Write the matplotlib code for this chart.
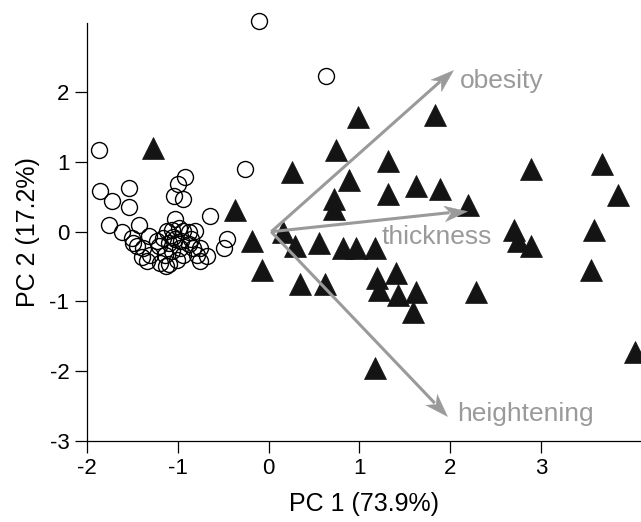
import numpy as np
import matplotlib
matplotlib.use("Agg")
import matplotlib.pyplot as plt
from matplotlib.path import Path
from matplotlib.markers import MarkerStyle
from matplotlib.transforms import Affine2D

plt.rcParams['font.family'] = ['Liberation Sans', 'DejaVu Sans']
plt.rcParams['axes.unicode_minus'] = False

# Group 1 (open circles)
circle_x = [-0.10, 0.63, -1.87, -0.26, -1.85, -1.54, -1.72, -1.54, -0.92, -1.00,
            -1.04, -0.94, -0.64, -1.03, -1.75, -1.61, -1.42, -0.46, -0.49,
            -1.50, -1.49, -1.31, -1.38, -1.39, -1.34, -1.23, -1.16, -1.12, -1.06,
            -0.99, -0.94, -0.88, -0.81, -1.10, -1.03, -0.96, -0.88, -0.97, -1.06,
            -1.14, -1.19, -1.10, -1.01, -0.94, -0.79, -0.75, -0.68, -0.75, -0.83,
            -1.30, -1.45, -1.13, -1.20, -1.05, -0.85]
circle_y = [3.02, 2.24, 1.18, 0.90, 0.59, 0.63, 0.44, 0.35, 0.78, 0.68,
            0.51, 0.47, 0.23, 0.18, 0.09, 0.00, 0.10, -0.10, -0.23,
            -0.09, -0.16, -0.06, -0.23, -0.37, -0.42, -0.13, -0.09, 0.01, 0.03,
            0.06, 0.01, -0.01, 0.01, -0.16, -0.11, -0.13, -0.18, -0.23, -0.28,
            -0.33, -0.45, -0.47, -0.40, -0.33, -0.33, -0.42, -0.35, -0.23, -0.23,
            -0.33, -0.21, -0.49, -0.20, -0.08, -0.10]

# Group 2 (filled triangles)
tri_x = [-1.27, 0.98, 1.83, 0.74, 1.31, 0.26, 2.89, 3.67, 0.89, 1.62,
         1.89, 1.32, 3.85, 0.72, 0.72, 2.20, -0.37, 2.70, 3.58, 0.16,
         -0.18, 0.29, 0.56, 0.82, 0.96, 1.17, 2.75, 2.89, -0.07, 0.35,
         0.62, 1.19, 1.40, 1.22, 1.43, 1.62, 1.59, 2.28, 3.55, 1.17, 4.03]
tri_y = [1.20, 1.65, 1.68, 1.17, 1.02, 0.86, 0.90, 0.97, 0.74, 0.65,
         0.62, 0.54, 0.53, 0.47, 0.32, 0.38, 0.31, 0.03, 0.03, 0.00,
         -0.13, -0.20, -0.16, -0.24, -0.24, -0.24, -0.14, -0.21, -0.55, -0.75,
         -0.75, -0.67, -0.59, -0.84, -0.91, -0.86, -1.15, -0.87, -0.55, -1.96, -1.73]

# Loading vectors
vec_names = ["obesity", "thickness", "heightening"]
vec_x = [2.03, 2.18, 1.96]
vec_y = [2.32, 0.30, -2.64]
vec_label_x = [2.11, 1.24, 2.07]
vec_label_y = [2.16, -0.08, -2.62]
origin = (0.03, 0.0)

x_ticks = [-2, -1, 0, 1, 2, 3]
y_ticks = [-3, -2, -1, 0, 1, 2]

fig = plt.figure(figsize=(6.41, 5.22), dpi=100)
ax = fig.add_axes([0.1353, 0.1557, 0.8647, 0.8008])
ax.set_xlim(-2, 4.098)
ax.set_ylim(-3, 3.0)

for s in ['top', 'right']:
    ax.spines[s].set_visible(False)
for s in ['left', 'bottom']:
    ax.spines[s].set_linewidth(0.9)
ax.set_xticks(x_ticks)
ax.set_yticks(y_ticks)
ax.tick_params(direction='out', length=8.5, width=0.9, labelsize=16, pad=4)
ax.set_xlabel("PC 1 (73.9%)", fontsize=18, labelpad=9)
ax.set_ylabel("PC 2 (17.2%)", fontsize=18, labelpad=7)

ax.plot(circle_x, circle_y, linestyle='none', marker='o', markersize=11.5,
        markerfacecolor='none', markeredgecolor='black', markeredgewidth=1.0,
        clip_on=False, zorder=3)
ax.plot(tri_x, tri_y, linestyle='none', marker='^', markersize=15.5,
        markerfacecolor='#141414', markeredgecolor='#141414', markeredgewidth=0.5,
        clip_on=True, zorder=3)

# arrows
gray = '#9a9a9a'
head = Path([(0, 0), (-1, 0.34), (-0.72, 0), (-1, -0.34), (0, 0)],
            [Path.MOVETO, Path.LINETO, Path.LINETO, Path.LINETO, Path.CLOSEPOLY])
head_len_px = 23.0
o_disp = ax.transData.transform(origin)
for name, tx, ty, lx, ly in zip(vec_names, vec_x, vec_y, vec_label_x, vec_label_y):
    t_disp = ax.transData.transform((tx, ty))
    d = t_disp - o_disp
    L = np.hypot(*d)
    u = d / L
    ang = np.degrees(np.arctan2(d[1], d[0]))
    end_disp = t_disp - u * head_len_px * 0.75
    end = ax.transData.inverted().transform(end_disp)
    ax.plot([origin[0], end[0]], [origin[1], end[1]], color=gray, lw=2.2,
            solid_capstyle='butt', zorder=4)
    ms = MarkerStyle(head, transform=Affine2D().rotate_deg(ang))
    ax.plot([tx], [ty], linestyle='none', marker=ms,
            markersize=2 * head_len_px * 72 / 100, markerfacecolor=gray,
            markeredgecolor=gray, markeredgewidth=0.3, zorder=4)
    ax.text(lx, ly, name, color=gray, fontsize=19, ha='left', va='center', zorder=5)

fig.savefig("out.png", dpi=100)
